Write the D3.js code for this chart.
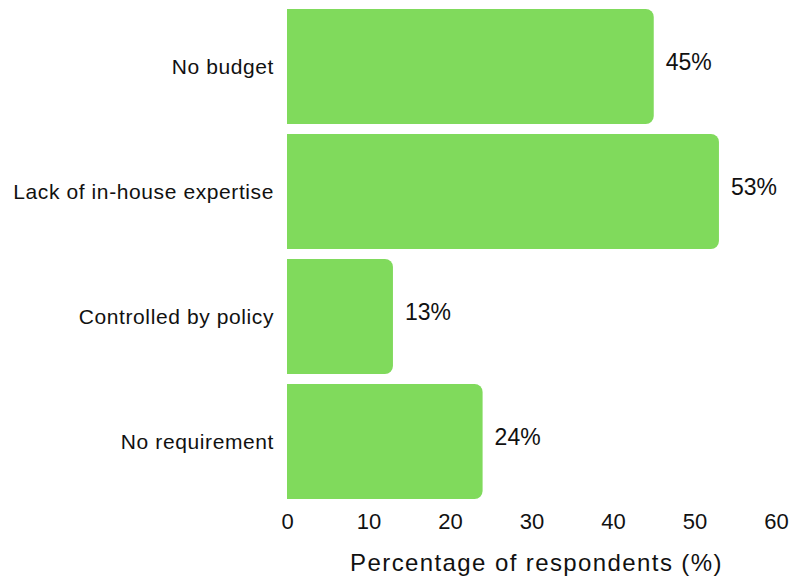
<!DOCTYPE html>
<html>
<head>
<meta charset="utf-8">
<script src="https://cdn.jsdelivr.net/npm/d3@7"></script>
<style>
  body { margin: 0; background: #fff; }
  svg { font-family: "Liberation Sans", Arial, sans-serif; }
</style>
</head>
<body>
<svg class="chart" width="807" height="580"></svg>
<script>
const categories = ["No budget", "Lack of in-house expertise", "Controlled by policy", "No requirement"];
const values = [45, 53, 13, 24];
const xTicks = [0, 10, 20, 30, 40, 50, 60];

const svg = d3.select("svg.chart");
const margin = { top: 9, right: 31, bottom: 81, left: 287 };
const width = +svg.attr("width") - margin.left - margin.right;
const height = +svg.attr("height") - margin.top - margin.bottom;
const g = svg.append("g").attr("transform", `translate(${margin.left}, ${margin.top})`);

const x = d3.scaleLinear().domain([0, 60]).range([0, width]);
const y = d3.scaleBand().domain(categories).range([0, height]).paddingInner(0.08).paddingOuter(0);

const r = 8;
// bar with square left edge, rounded right corners
function barPath(w, h) {
    const rr = Math.min(r, w / 2, h / 2);
    return `M0,0H${w - rr}A${rr},${rr} 0 0 1 ${w},${rr}V${h - rr}A${rr},${rr} 0 0 1 ${w - rr},${h}H0Z`;
}

const data = categories.map((c, i) => ({ cat: c, val: values[i] }));

const bar = g.selectAll(".bar")
    .data(data)
    .enter().append("g")
    .attr("class", "bar")
    .attr("transform", d => `translate(0, ${y(d.cat)})`);

bar.append("path")
    .attr("d", d => barPath(x(d.val), y.bandwidth()))
    .attr("fill", "#80da5c");

bar.append("text")
    .attr("x", d => x(d.val) + 12)
    .attr("y", y.bandwidth() / 2 - 5)
    .attr("dy", "0.35em")
    .attr("font-size", 23)
    .attr("fill", "#111")
    .text(d => d.val + "%");

// category labels
g.append("g")
    .selectAll("text")
    .data(categories)
    .enter().append("text")
    .attr("x", -13)
    .attr("y", d => y(d) + y.bandwidth() / 2)
    .attr("dy", "0.35em")
    .attr("text-anchor", "end")
    .attr("font-size", 21)
    .attr("letter-spacing", 0.6)
    .attr("fill", "#111")
    .text(d => d);

// x axis, labels only
const xAxis = g.append("g")
    .attr("transform", `translate(0, ${height})`)
    .call(d3.axisBottom(x).tickValues(xTicks).tickSize(0).tickPadding(14));
xAxis.select(".domain").remove();
xAxis.selectAll("text")
    .attr("font-size", 22)
    .attr("font-family", "Liberation Sans, Arial, sans-serif")
    .attr("fill", "#111");

g.append("text")
    .attr("x", width / 2 + 5)
    .attr("y", height + 72)
    .attr("text-anchor", "middle")
    .attr("font-size", 24)
    .attr("letter-spacing", 1.4)
    .attr("fill", "#111")
    .text("Percentage of respondents (%)");
</script>
</body>
</html>
